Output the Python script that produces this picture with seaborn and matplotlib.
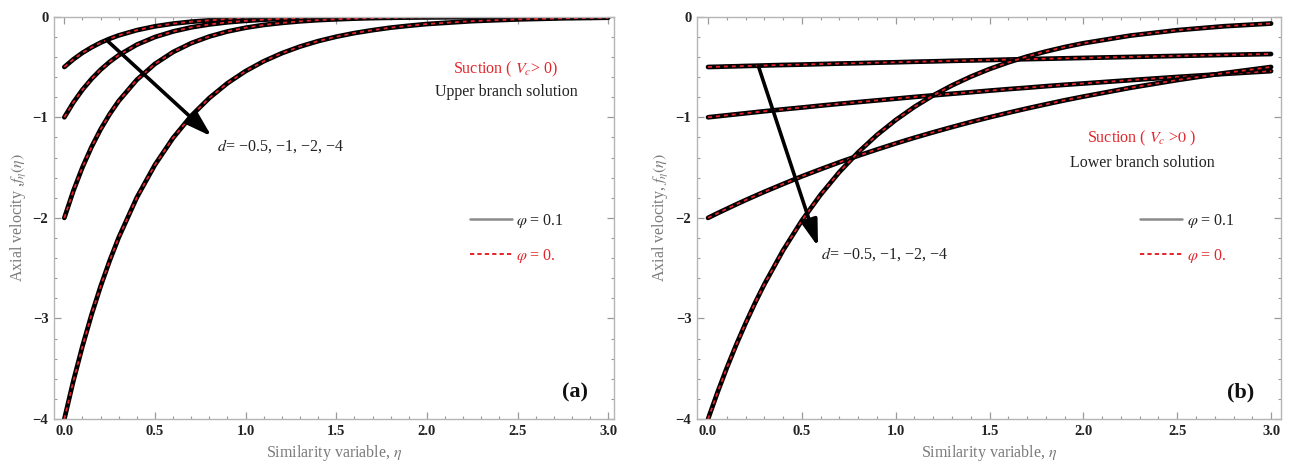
import numpy as np
import pandas as pd
import matplotlib
matplotlib.use("Agg")
import matplotlib.pyplot as plt
import seaborn as sns
from matplotlib.lines import Line2D
from matplotlib.ticker import MultipleLocator, FuncFormatter

# ---------------- data ----------------
eta = [0, 0.05, 0.1, 0.15, 0.2, 0.25, 0.3, 0.4, 0.5, 0.6, 0.7, 0.8, 0.9,
       1.0, 1.1, 1.2, 1.3, 1.4, 1.5, 1.6, 1.7, 1.8, 1.9, 2.0, 2.25, 2.5, 2.75, 3.0]
d_values = [-0.5, -1, -2, -4]

# (a) upper branch solution
upper_d05 = [-0.500, -0.424, -0.359, -0.305, -0.258, -0.219, -0.186, -0.134, -0.096, -0.069,
             -0.050, -0.036, -0.026, -0.018, -0.013, -0.010, -0.007, -0.005, -0.004, -0.003,
             -0.002, -0.001, -0.001, -0.001, 0.000, 0.000, 0.000, 0.000]
upper_d1 = [-1.000, -0.852, -0.726, -0.619, -0.527, -0.449, -0.383, -0.278, -0.202, -0.147,
            -0.106, -0.077, -0.056, -0.041, -0.030, -0.021, -0.016, -0.011, -0.008, -0.006,
            -0.004, -0.003, -0.002, -0.002, -0.001, 0.000, 0.000, 0.000]
upper_d2 = [-2.000, -1.730, -1.497, -1.295, -1.120, -0.969, -0.838, -0.627, -0.469, -0.351,
            -0.263, -0.197, -0.147, -0.110, -0.082, -0.062, -0.046, -0.034, -0.026, -0.019,
            -0.014, -0.011, -0.008, -0.006, -0.003, -0.001, -0.001, 0.000]
upper_d4 = [-4.000, -3.619, -3.275, -2.963, -2.681, -2.426, -2.195, -1.797, -1.472, -1.205,
            -0.986, -0.808, -0.661, -0.541, -0.443, -0.363, -0.297, -0.243, -0.199, -0.163,
            -0.134, -0.109, -0.090, -0.073, -0.044, -0.027, -0.016, -0.010]

# (b) lower branch solution
lower_d05 = [-0.500, -0.498, -0.495, -0.493, -0.490, -0.488, -0.485, -0.480, -0.476, -0.471,
             -0.466, -0.462, -0.457, -0.453, -0.448, -0.444, -0.439, -0.435, -0.431, -0.426,
             -0.422, -0.418, -0.414, -0.410, -0.400, -0.390, -0.380, -0.371]
lower_d1 = [-1.000, -0.990, -0.980, -0.970, -0.960, -0.950, -0.940, -0.921, -0.903, -0.884,
            -0.866, -0.849, -0.832, -0.815, -0.798, -0.782, -0.766, -0.751, -0.735, -0.720,
            -0.706, -0.691, -0.677, -0.664, -0.631, -0.599, -0.569, -0.541]
lower_d2 = [-2.000, -1.954, -1.910, -1.866, -1.823, -1.782, -1.741, -1.663, -1.587, -1.516,
            -1.447, -1.382, -1.320, -1.260, -1.203, -1.149, -1.097, -1.047, -1.000, -0.955,
            -0.912, -0.871, -0.831, -0.794, -0.707, -0.630, -0.561, -0.500]
lower_d4 = [-4.000, -3.737, -3.491, -3.262, -3.048, -2.847, -2.660, -2.322, -2.026, -1.769,
            -1.544, -1.348, -1.176, -1.027, -0.896, -0.782, -0.683, -0.596, -0.520, -0.454,
            -0.396, -0.346, -0.302, -0.264, -0.188, -0.134, -0.095, -0.068]

x_ticks = [0.0, 0.5, 1.0, 1.5, 2.0, 2.5, 3.0]
y_ticks = [0, -1, -2, -3, -4]
d_label = r"$d$= −0.5, −1, −2, −4"

# ---------------- style ----------------
sns.set_theme(style="ticks")
plt.rcParams["font.family"] = ["Liberation Serif", "DejaVu Serif"]
plt.rcParams["mathtext.fontset"] = "stix"

RED = "#e3252b"
GRAY = "#9a9a9a"
LABEL_GRAY = "#7a7a7a"
ARROW = dict(arrowstyle="-|>,head_length=0.64,head_width=0.2", lw=2.6,
             color="black", mutation_scale=25, shrinkA=0, shrinkB=0)


def long_frame(series):
    rows = []
    for d, vals in zip(d_values, series):
        for e, v in zip(eta, vals):
            rows.append({"eta": e, "f": v, "d": d})
    return pd.DataFrame(rows)


fig = plt.figure(figsize=(12.95, 4.70), dpi=100)
ax1 = fig.add_axes([0.0417, 0.1083, 0.4324, 0.8562])
ax2 = fig.add_axes([0.5382, 0.1083, 0.4510, 0.8562])

panels = [
    (ax1, [upper_d05, upper_d1, upper_d2, upper_d4], (-0.057, 3.032),
     "Axial velocity ,$f_\\eta(\\eta)$", "(a)"),
    (ax2, [lower_d05, lower_d1, lower_d2, lower_d4], (-0.059, 3.053),
     "Axial velocity, $f_\\eta(\\eta)$", "(b)"),
]

for ax, series, xlim, ylab, tag in panels:
    df = long_frame(series)
    for d in d_values:
        sub = df[df["d"] == d]
        # phi = 0.1 (solid black) and phi = 0 (red dashed) coincide
        sns.lineplot(data=sub, x="eta", y="f", ax=ax, color="black", lw=3.4,
                     sort=False, estimator=None, solid_joinstyle="round")
        sns.lineplot(data=sub, x="eta", y="f", ax=ax, color=RED, lw=1.3,
                     linestyle=(0, (2.2, 2.2)), sort=False, estimator=None)
    ax.set_xlim(*xlim)
    ax.set_ylim(-4, 0)
    ax.set_xticks(x_ticks)
    ax.set_yticks(y_ticks)
    ax.xaxis.set_minor_locator(MultipleLocator(0.1))
    ax.yaxis.set_minor_locator(MultipleLocator(0.2))
    ax.xaxis.set_major_formatter(FuncFormatter(lambda v, p: f"{v:.1f}"))
    ax.yaxis.set_major_formatter(FuncFormatter(lambda v, p: f"{int(round(v))}".replace("-", "−")))
    ax.tick_params(which="both", direction="in", top=True, right=True,
                   color=GRAY, labelcolor="#222222", labelsize=10.5, pad=4)
    ax.tick_params(which="major", length=5, width=0.9)
    ax.tick_params(which="minor", length=2.5, width=0.8)
    for lab in ax.get_xticklabels() + ax.get_yticklabels():
        lab.set_fontweight("bold")
    for sp in ax.spines.values():
        sp.set_color("#b5b5b5")
        sp.set_linewidth(1.0)
    ax.set_xlabel("Similarity variable, $\\eta$", color=LABEL_GRAY, fontsize=11.5, labelpad=4)
    ax.set_ylabel(ylab, color=LABEL_GRAY, fontsize=11.5, labelpad=3)

    ax.text(0.93, 0.065, tag, transform=ax.transAxes, fontsize=16, fontweight="bold",
            ha="center", va="center", color="#111111")

    handles = [Line2D([0], [0], color="#8a8a8a", lw=1.8),
               Line2D([0], [0], color=RED, lw=1.4, linestyle=(0, (2.2, 1.6)))]
    leg = ax.legend(handles, [r"$\varphi$ = 0.1", r"$\varphi$ = 0."],
                    loc="upper left", frameon=False, fontsize=11.5,
                    handlelength=2.6, handletextpad=0.3, labelspacing=1.05,
                    borderpad=0, borderaxespad=0,
                    bbox_to_anchor=(0.743 if ax is ax1 else 0.759, 0.515))
    leg.get_texts()[0].set_color("#222222")
    leg.get_texts()[1].set_color(RED)

# annotations panel (a)
ax1.annotate("", xy=(0.8125, -1.19), xytext=(0.233, -0.232), arrowprops=ARROW)
ax1.text(0.84, -1.29, d_label, fontsize=11.5, color="#222222", ha="left", va="center")
ax1.text(2.436, -0.52, "Suction ( $V_c$> 0)", color=RED, fontsize=11.5, ha="center", va="center")
ax1.text(2.436, -0.75, "Upper branch solution", color="#222222", fontsize=11.5,
         ha="center", va="center")

# annotations panel (b)
ax2.annotate("", xy=(0.586, -2.286), xytext=(0.268, -0.49), arrowprops=ARROW)
ax2.text(0.60, -2.36, d_label, fontsize=11.5, color="#222222", ha="left", va="center")
ax2.text(2.312, -1.206, r"Suction ( $V_c$ >$\mathit{0}$ )", color=RED, fontsize=11.5,
         ha="center", va="center")
ax2.text(2.312, -1.454, "Lower branch solution", color="#222222", fontsize=11.5,
         ha="center", va="center")

fig.savefig("out.png", dpi=100)
